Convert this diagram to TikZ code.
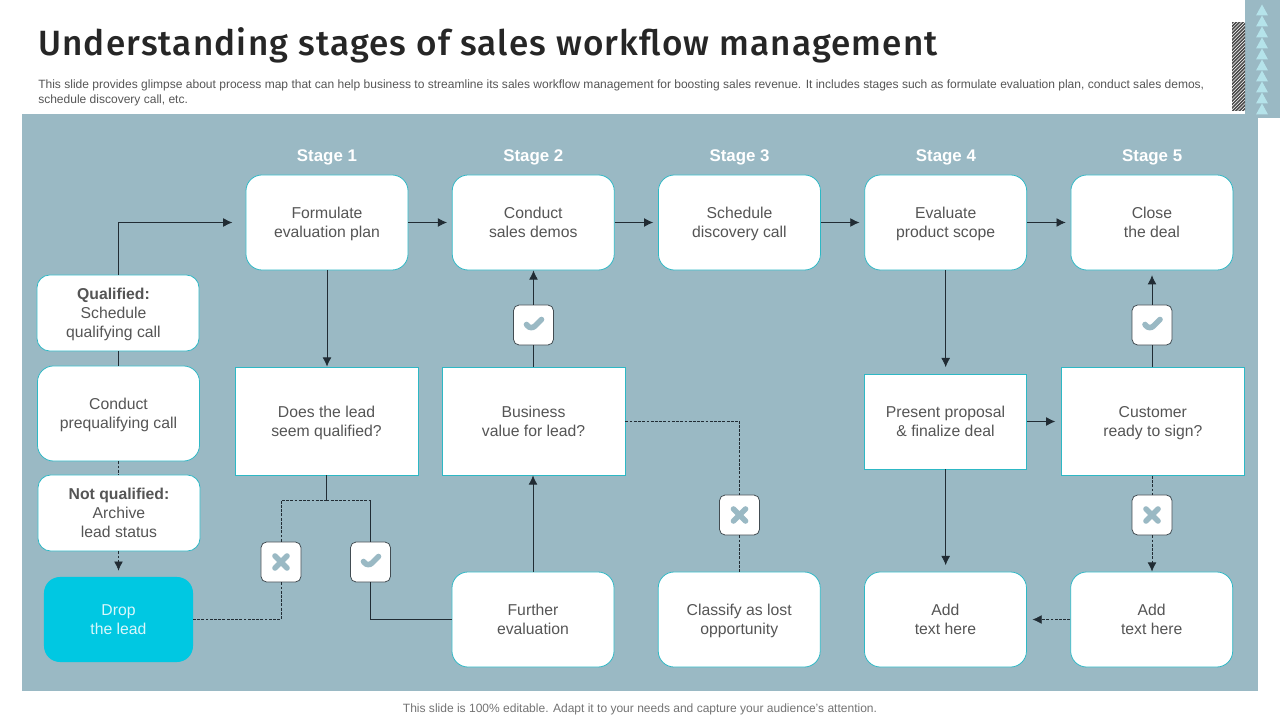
\documentclass[tikz,border=0pt]{standalone}
\usepackage{fontspec}
\setmainfont{Liberation Sans}
\newfontfamily\titlefont[LetterSpace=3.3]{Fira Sans Medium}
\usepackage{xcolor}
\usetikzlibrary{arrows.meta, positioning, calc}
\definecolor{panelblue}{RGB}{154, 185, 196}
\definecolor{edgeteal}{RGB}{45, 184, 197}
\definecolor{dropcyan}{RGB}{0, 200, 226}
\definecolor{textgray}{RGB}{85, 85, 85}
\definecolor{linkdark}{RGB}{33, 44, 52}
\definecolor{triblue}{RGB}{181, 227, 234}
\tikzset{
  boxtext/.style={align=center, text=textgray, font=\fontsize{11.2}{13.5}\selectfont, inner sep=0pt, text depth=-0.3pt},
  roundbox/.style={boxtext, rectangle, rounded corners=0.4cm, draw=edgeteal, line width=0.55pt, fill=white, minimum width=4.05cm, minimum height=2.375cm},
  sidebox/.style={roundbox, rounded corners=0.32cm, minimum height=1.9cm},
  squarebox/.style={boxtext, rectangle, draw=edgeteal, line width=0.55pt, fill=white, minimum width=4.575cm, minimum height=2.7cm},
  dropbox/.style={boxtext, rectangle, rounded corners=0.4cm, fill=dropcyan, text=white!85!dropcyan, minimum width=3.725cm, minimum height=2.125cm},
  badge/.style={rectangle, rounded corners=0.14cm, draw=linkdark!85, line width=0.55pt, fill=white, minimum width=1cm, minimum height=1cm, inner sep=0pt},
  checkbadge/.style={badge, path picture={\draw[panelblue, line width=0.14cm, line join=round, line cap=round] ([shift={(-7,-0.5)}]path picture bounding box.center) -- ([shift={(-2.5,5)}]path picture bounding box.center) -- ([shift={(8,-5.5)}]path picture bounding box.center);}},
  crossbadge/.style={badge, path picture={\draw[panelblue, line width=0.14cm, line cap=round] ([shift={(-6,-6)}]path picture bounding box.center) -- ([shift={(6,6)}]path picture bounding box.center) ([shift={(-6,6)}]path picture bounding box.center) -- ([shift={(6,-6)}]path picture bounding box.center);}},
  stagelabel/.style={text=white, font=\fontsize{12}{14}\selectfont\bfseries, inner sep=0pt},
  link/.style={draw=linkdark, line width=0.6pt},
  linkarrow/.style={link, -{Latex[length=0.23cm,width=0.22cm]}},
  dashlink/.style={link, dash pattern=on 2pt off 1pt},
  dasharrow/.style={linkarrow, dash pattern=on 2pt off 1pt}
}

\begin{document}
\begin{tikzpicture}[x=0.025cm, y=-0.025cm]
    \useasboundingbox (0,0) rectangle (1280,720);
    % Panels and corner decoration
    \fill[panelblue] (22,114) rectangle (1258,691);
    \fill[panelblue] (1245,0) rectangle (1280,118);
    \begin{scope}
        \clip (1232,23) rectangle (1245,111);
        \foreach \i in {0,...,30}
            \draw[black!70, line width=1.1pt] (1228,27+3.4*\i) -- (1250,5+3.4*\i);
    \end{scope}
    \foreach \i in {0,...,9}
        \fill[triblue] (1256,15.5+11*\i) -- (1268,15.5+11*\i) -- (1262,4.5+11*\i) -- cycle;

    % Heading
    \node (title) [anchor=west, inner sep=0pt, text=black!85, font=\titlefont\fontsize{24.95}{30}\selectfont] at (38,45) {Understanding stages of sales workflow management};
    \node (intro) [anchor=north west, inner sep=0pt, align=left, text=textgray, font=\fontsize{8.55}{10}\selectfont] at (38,80) {This slide provides glimpse about process map that can help business to streamline its sales workflow management for boosting sales revenue. It includes stages such as formulate evaluation plan, conduct sales demos,\\schedule discovery call, etc.};
    \node (footer) [inner sep=0pt, text=black!55, font=\fontsize{8.55}{10}\selectfont] at (640,709.5) {This slide is 100\% editable. Adapt it to your needs and capture your audience's attention.};

    % Top row
    \node (formulate) [roundbox] at (327,222.5) {Formulate\\evaluation plan};
    \node (demos) [roundbox, right=1.085cm of formulate] {Conduct\\sales demos};
    \node (discovery) [roundbox, right=1.085cm of demos] {Schedule\\discovery call};
    \node (scope) [roundbox, right=1.085cm of discovery] {Evaluate\\product scope};
    \node (close) [roundbox, right=1.085cm of scope] {Close\\the deal};
    \node (stage1) [stagelabel] at (327,157) {Stage 1};
    \node (stage2) [stagelabel, right=5.156cm of stage1.center, anchor=center] {Stage 2};
    \node (stage3) [stagelabel, right=5.156cm of stage2.center, anchor=center] {Stage 3};
    \node (stage4) [stagelabel, right=5.156cm of stage3.center, anchor=center] {Stage 4};
    \node (stage5) [stagelabel, right=5.156cm of stage4.center, anchor=center] {Stage 5};

    % Left column
    \node (qualified) [sidebox] at (118,313) {\hspace*{-0.225cm}\textbf{Qualified:}\\\hspace*{-0.225cm}Schedule\\\hspace*{-0.225cm}qualifying call};
    \node (prequal) [roundbox] at (118.5,413.5) {Conduct\\prequalifying call};
    \node (notqual) [sidebox] at (119,513) {\textbf{Not qualified:}\\Archive\\lead status};
    \node (drop) [dropbox] at (118.5,619.5) {Drop\\the lead};

    % Middle row
    \node (seem) [squarebox] at (326.5,421) {Does the lead\\seem qualified?};
    \node (value) [squarebox, right=0.58cm of seem] {Business\\value for lead?};
    \node (proposal) [squarebox, minimum width=4.05cm, minimum height=2.375cm] at (945.5,421.5) {Present proposal\\\& finalize deal};
    \node (sign) [squarebox, right=0.85cm of proposal] {Customer\\ready to sign?};

    % Bottom row
    \node (further) [roundbox] at (533,619.5) {Further\\evaluation};
    \node (lost) [roundbox, right=1.085cm of further] {Classify as lost\\opportunity};
    \node (add1) [roundbox, right=1.085cm of lost] {Add\\text here};
    \node (add2) [roundbox, right=1.085cm of add1] {Add\\text here};

    % Yes / no marks
    \node (checkvalue) [checkbadge] at (533.5,325) {};
    \node (checkseem) [checkbadge] at (370.5,562) {};
    \node (checksign) [checkbadge] at (1152,325) {};
    \node (crossseem) [crossbadge] at (281,562) {};
    \node (crossvalue) [crossbadge] at (739.5,515) {};
    \node (crosssign) [crossbadge] at (1152,515) {};
    \coordinate (split) at ($(seem.south)+(0,25)$);

    % Top row links
    \draw[linkarrow, shorten >=0.12cm] (formulate) -- (demos);
    \draw[linkarrow, shorten >=0.12cm] (demos) -- (discovery);
    \draw[linkarrow, shorten >=0.12cm] (discovery) -- (scope);
    \draw[linkarrow, shorten >=0.12cm] (scope) -- (close);

    % Left column links
    \draw[linkarrow, shorten >=0.33cm] (qualified.north) |- (formulate.west);
    \draw[link] (prequal.north -| qualified) -- (qualified.south);
    \draw[dashlink] (prequal.south) -- (prequal.south |- notqual.north);
    \draw[dasharrow, shorten >=0.15cm] (notqual.south -| drop) -- (drop.north);

    % Lead check links
    \draw[linkarrow] (formulate.south) -- (formulate.south |- seem.north);
    \draw[link] (seem.south) -- (split);
    \draw[dashlink] (crossseem.north) |- (split);
    \draw[dashlink] (split) -- (split -| checkseem);
    \draw[link] (split -| checkseem) -- (checkseem.north);
    \draw[dashlink] (crossseem.south) |- (drop.east);
    \draw[link] (checkseem.south) |- (further.west);

    % Business value links
    \draw[linkarrow] (further.north) -- (further.north |- value.south);
    \draw[link] (value.north -| checkvalue) -- (checkvalue.south);
    \draw[linkarrow] (checkvalue.north) -- (checkvalue.north |- demos.south);
    \draw[dashlink] (value.east) -| (crossvalue.north);
    \draw[dashlink] (crossvalue.south) -- (crossvalue.south |- lost.north);

    % Closing links
    \draw[linkarrow, shorten >=0.16cm] (scope.south) -- (scope.south |- proposal.north);
    \draw[linkarrow, shorten >=0.16cm] (scope.south |- proposal.south) -- (scope.south |- add1.north);
    \draw[linkarrow, shorten >=0.14cm] (proposal.east) -- (proposal.east -| sign.west);
    \draw[link] (checksign.south |- sign.north) -- (checksign.south);
    \draw[linkarrow, shorten >=0.12cm] (checksign.north) -- (checksign.north |- close.south);
    \draw[dashlink] (crosssign.north |- sign.south) -- (crosssign.north);
    \draw[dasharrow] (crosssign.south) -- (crosssign.south |- add2.north);
    \draw[dasharrow, shorten >=0.14cm] (add2.west) -- (add1.east);
\end{tikzpicture}
\end{document}
